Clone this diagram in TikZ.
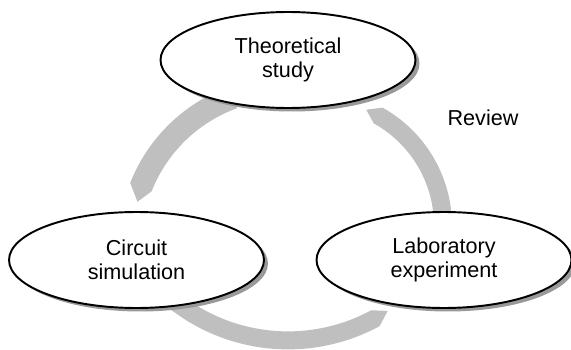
\documentclass[tikz,border=0pt]{standalone}
\usepackage{fontspec}
\setmainfont{Liberation Sans}
\usetikzlibrary{calc,shapes.geometric,shadows}

% gray curved arrow: centre, inner r, outer r, from, to, tip angle, tip r
\newcommand{\cyclearc}[7]{%
  \fill[band] ($#1+(#4:#3)$) arc[start angle=#4,end angle=#5,radius=#3]
    -- ($#1+(#6:#7)$) -- ($#1+(#5:#2)$)
    arc[start angle=#5,end angle=#4,radius=#2] -- cycle;}

\begin{document}
\begin{tikzpicture}[x=0.02cm,y=0.02cm,
    stage/.style={ellipse,draw,line width=1.1pt,fill=white,inner sep=0pt,
      minimum width=5.1cm,minimum height=1.92cm,align=center,
      font=\fontsize{12.3}{13.8}\selectfont,
      drop shadow={shadow xshift=0.08cm,shadow yshift=-0.07cm,fill=black!40,opacity=1}},
    band/.style={fill=black!25},
    note/.style={font=\fontsize{12.3}{13.8}\selectfont}
]
\useasboundingbox (0,0) rectangle (571,349);
% arrows of the cycle
\cyclearc{(286.5,104.5)}{145}{168}{110}{158.5}{164}{155}
\cyclearc{(288,191.6)}{174}{192}{-128}{-61.5}{-57}{183}
\cyclearc{(317,123.3)}{117}{135}{-8}{61}{67}{126}
% stages
\node[stage] (theory) at (288,289) {Theoretical\\study};
\node[stage] (sim) at (136.5,89) {Circuit\\simulation};
\node[stage] (lab) at (444,89) {Laboratory\\experiment};
\node[note] (review) at (483,231) {Review};
\end{tikzpicture}
\end{document}
